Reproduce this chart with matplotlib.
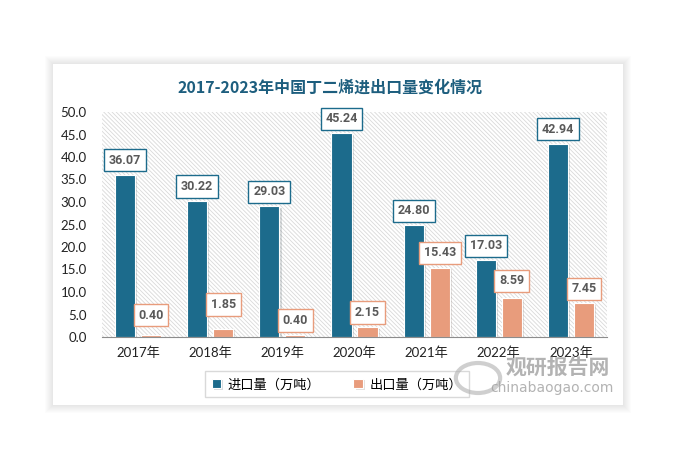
import matplotlib.pyplot as plt
import matplotlib.patheffects as pe
from matplotlib.patches import Rectangle, FancyBboxPatch

plt.rcParams['font.family'] = ['Lato', 'Noto Sans CJK SC', 'DejaVu Sans']
plt.rcParams['hatch.color'] = '#d9d9d9'
plt.rcParams['hatch.linewidth'] = 0.6

years = ['2017年', '2018年', '2019年', '2020年', '2021年', '2022年', '2023年']
imports = [36.07, 30.22, 29.03, 45.24, 24.80, 17.03, 42.94]
exports = [0.40, 1.85, 0.40, 2.15, 15.43, 8.59, 7.45]
series_names = ['进口量（万吨）', '出口量（万吨）']

# extra lift (points) of some export labels, as placed in the original
exp_lift = [4, 7, 0, 0, 0, 2, 0]

IMP_COLOR = '#1c6b8c'
EXP_COLOR = '#e89c7c'

W, H = 676, 458
fig = plt.figure(figsize=(W / 100, H / 100), dpi=100)
fig.patch.set_facecolor('white')

# card with soft shadow
for i in range(8):
    pad = 8 - i
    fig.patches.append(Rectangle(((53 - pad) / W, 1 - (405 + pad) / H),
                                 (570 + 2 * pad) / W, (341 + 2 * pad) / H,
                                 transform=fig.transFigure, facecolor='black',
                                 alpha=0.012, edgecolor='none', zorder=0))
fig.patches.append(Rectangle((53 / W, 1 - 405 / H), 570 / W, 341 / H,
                             transform=fig.transFigure, facecolor='white',
                             edgecolor='none', zorder=1))

ax = fig.add_axes([102 / W, 1 - 337 / H, 505 / W, 225 / H])
ax.set_zorder(2)
ax.set_facecolor('white')
ax.add_patch(Rectangle((0, 0), 1, 1, transform=ax.transAxes, facecolor='white',
                       hatch='\\\\\\\\\\\\\\\\', edgecolor='#d9d9d9', linewidth=0,
                       zorder=0))

x = list(range(len(years)))
bw = 0.28
off = 0.18
shadow = [pe.SimplePatchShadow(offset=(1.5, -1.0), alpha=0.15), pe.Normal()]
b1 = ax.bar([i - off for i in x], imports, bw, color=IMP_COLOR, edgecolor='white',
            linewidth=0.8, zorder=3, label=series_names[0])
b2 = ax.bar([i + off for i in x], exports, bw, color=EXP_COLOR, edgecolor='white',
            linewidth=0.8, zorder=3, label=series_names[1])
for b in list(b1) + list(b2):
    b.set_path_effects(shadow)

for bars, vals, col, lifts in [(b1, imports, IMP_COLOR, [0] * len(imports)),
                               (b2, exports, EXP_COLOR, exp_lift)]:
    for b, v, lift in zip(bars, vals, lifts):
        ax.annotate(f'{v:.2f}', (b.get_x() + b.get_width() / 2, v),
                    xytext=(0, 10.5 + lift), textcoords='offset points', ha='center',
                    va='center', fontsize=9, fontweight='bold', color='#595959',
                    family=['Roboto', 'DejaVu Sans'], zorder=5,
                    bbox=dict(boxstyle='square,pad=0.38', facecolor='white',
                              edgecolor=col, linewidth=1.0))

ax.set_xlim(-0.5, len(years) - 0.5)
ax.set_ylim(0, 50)
ax.set_yticks([i * 5 for i in range(11)])
ax.set_yticklabels([f'{i * 5:.1f}' for i in range(11)], fontsize=9.5, color='#222222')
ax.set_xticks(x)
ax.set_xticklabels(years, fontsize=9.5, color='#222222')
ax.tick_params(axis='both', length=0)
ax.tick_params(axis='x', pad=7)
ax.tick_params(axis='y', pad=11)
for s in ['top', 'right', 'left']:
    ax.spines[s].set_visible(False)
ax.spines['bottom'].set_color('#8c8c8c')
ax.spines['bottom'].set_zorder(4)

fig.text(330 / W, 1 - 88 / H, '2017-2023年中国丁二烯进出口量变化情况', ha='center',
         va='center', fontsize=11.5, fontweight='bold', color='#1d5e7e',
         family=['Noto Sans CJK SC', 'DejaVu Sans'])

leg = fig.legend(handles=[b1, b2], labels=series_names, loc='center',
                 bbox_to_anchor=(337 / W, 1 - 384 / H), ncol=2, fontsize=9.5,
                 frameon=True, fancybox=False, edgecolor='#d0d0d0',
                 handlelength=0.7, handleheight=0.7, columnspacing=2.5,
                 handletextpad=0.5, borderpad=0.5)
leg.set_zorder(6)

# watermark
fig.text(558 / W, 1 - 367 / H, '观研报告网', ha='center', va='center', fontsize=15,
         fontweight='bold', color='#a0a0a0', alpha=0.8, zorder=7,
         family=['Noto Sans CJK SC'])
fig.text(552 / W, 1 - 388 / H, 'chinabaogao.com', ha='center', va='center',
         fontsize=10, color='#a0a0a0', alpha=0.8, zorder=7,
         family=['DejaVu Sans'])
fig.patches.append(FancyBboxPatch((463 / W, 1 - 393 / H), 30 / W, 30 / H,
                                  boxstyle='circle,pad=0', transform=fig.transFigure,
                                  facecolor='none', edgecolor='#b0b0b0', linewidth=3,
                                  alpha=0.6, zorder=7))

fig.savefig('out.png', dpi=100)
